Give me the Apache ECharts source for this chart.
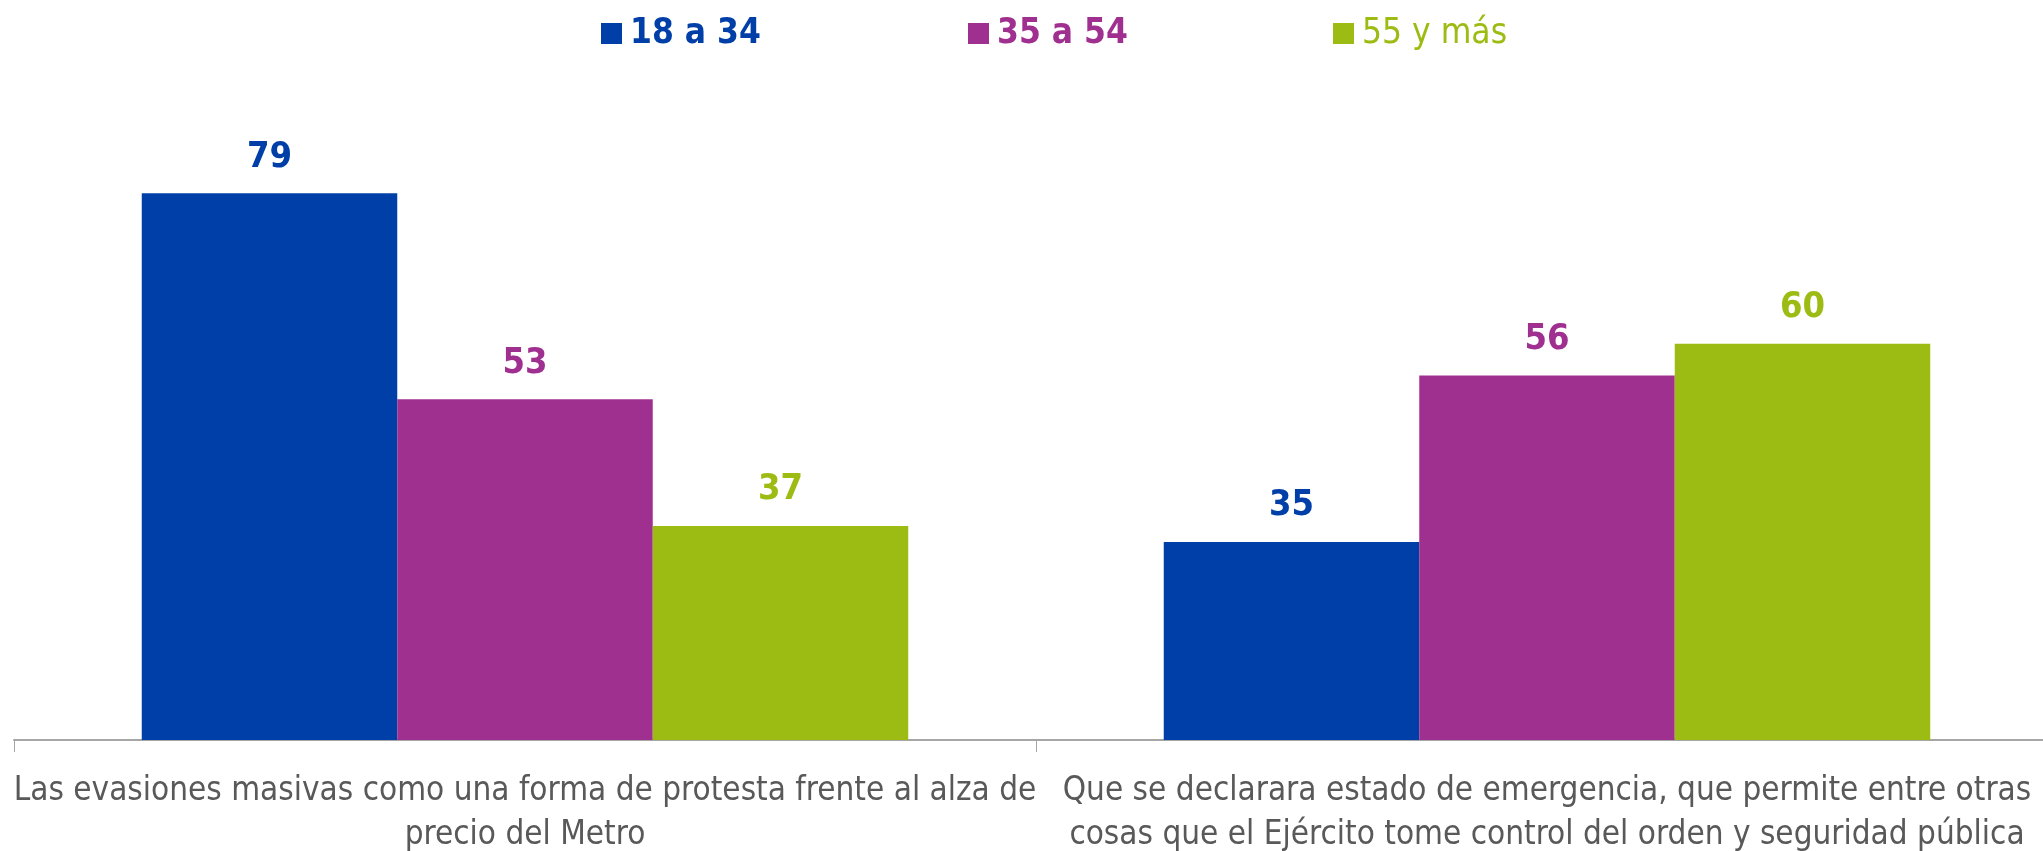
<!DOCTYPE html>
<html>
<head>
<meta charset="utf-8">
<script src="https://cdn.jsdelivr.net/npm/echarts@6/dist/echarts.min.js"></script>
<style>
  html, body { margin: 0; padding: 0; background: #fff; }
  #chart { width: 2043px; height: 851px; }
</style>
</head>
<body>
<div id="chart"></div>
<script>
const categories = [
  'Las evasiones masivas como una forma de protesta frente al alza de\nprecio del Metro',
  'Que se declarara estado de emergencia, que permite entre otras\ncosas que el Ejército tome control del orden y seguridad pública'
]
const seriesNames = ['18 a 34', '35 a 54', '55 y más']
const age18to34 = [79, 35]
const age35to54 = [53, 56]
const age55plus = [37, 60]

const colors = ['#003FA7', '#A0308F', '#9CBC14']
const font = '"Liberation Sans Narrow", "DejaVu Sans Condensed", "Open Sans", sans-serif'
const values = [age18to34, age35to54, age55plus]
const legendLeft = [596, 963, 1328]
const legendBold = ['bold', 'bold', 'normal']

const chart = echarts.init(document.getElementById('chart'))

const option = {
  animation: false,
  color: colors,
  legend: seriesNames.map((name, i) => ({
    data: [name],
    left: legendLeft[i],
    top: 11,
    icon: 'rect',
    itemWidth: 21,
    itemHeight: 21,
    itemGap: 0,
    textStyle: {
      color: colors[i],
      fontSize: 35,
      fontWeight: legendBold[i],
      fontFamily: font,
      padding: [0, 0, 0, 3]
    }
  })),
  grid: {
    left: 14,
    right: -15,
    top: 106,
    bottom: 111,
    containLabel: false,
    outerBoundsMode: 'none'
  },
  xAxis: {
    type: 'category',
    data: categories,
    axisLine: { lineStyle: { color: '#A6A6A6', width: 2 } },
    axisTick: { show: true, length: 12, lineStyle: { color: '#A6A6A6', width: 1 } },
    axisLabel: {
      interval: 0,
      color: '#595959',
      fontSize: 33,
      lineHeight: 44,
      margin: 29,
      fontFamily: font
    }
  },
  yAxis: {
    type: 'value',
    min: 10,
    max: 90,
    show: false,
    splitLine: { show: false }
  },
  series: values.map((data, i) => ({
    name: seriesNames[i],
    type: 'bar',
    data,
    barGap: '0%',
    barCategoryGap: '25%',
    itemStyle: { color: colors[i] },
    label: {
      show: true,
      position: 'top',
      distance: 18,
      color: colors[i],
      fontSize: 36,
      fontWeight: 'bold',
      fontFamily: font
    }
  }))
}

chart.setOption(option)
</script>
</body>
</html>
